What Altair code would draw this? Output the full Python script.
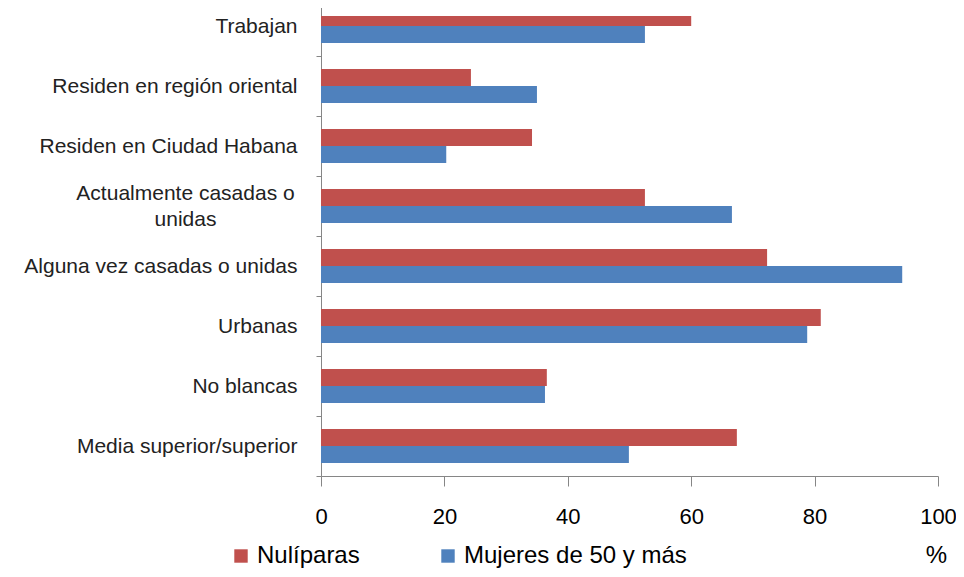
import altair as alt
import pandas as pd

categories = [
    "Trabajan",
    "Residen en región oriental",
    "Residen en Ciudad Habana",
    "Actualmente casadas o unidas",
    "Alguna vez casadas o unidas",
    "Urbanas",
    "No blancas",
    "Media superior/superior",
]
nuliparas = [60.0, 24.3, 34.2, 52.5, 72.3, 81.0, 36.6, 67.4]
mujeres50 = [52.5, 35.0, 20.3, 66.6, 94.2, 78.8, 36.3, 49.9]
series = ["Nulíparas", "Mujeres de 50 y más"]
colors = ["#C0504D", "#4F81BD"]
x_ticks = [0, 20, 40, 60, 80, 100]

rows = []
for c, a, b in zip(categories, nuliparas, mujeres50):
    rows.append({"cat": c, "serie": series[0], "val": a})
    rows.append({"cat": c, "serie": series[1], "val": b})
df = pd.DataFrame(rows)

font = "Liberation Sans"
multi = "Actualmente casadas o unidas"
test = f"datum.value == '{multi}'"

chart = (
    alt.Chart(df)
    .mark_bar(clip=True)
    .encode(
        y=alt.Y(
            "cat:N",
            sort=categories,
            scale=alt.Scale(paddingInner=0, paddingOuter=0, range=[-20, 460]),
            axis=alt.Axis(
                title=None,
                tickBand="extent",
                tickSize=5,
                labelPadding={"condition": {"test": test, "value": 131}, "value": 19},
                labelAlign={"condition": {"test": test, "value": "center"}, "value": "right"},
                labelFontSize=21,
                labelFont=font,
                labelColor="#222222",
                labelLimit=400,
                labelLineHeight=26,
                labelOffset={"condition": {"test": test, "value": -13}, "value": 0},
                labelExpr=f"{test} ? ['Actualmente casadas o', 'unidas'] : datum.value",
                domainColor="#868686",
                tickColor="#868686",
                grid=False,
            ),
        ),
        yOffset=alt.YOffset(
            "serie:N",
            sort=series,
            scale=alt.Scale(paddingInner=0, paddingOuter=0.765),
        ),
        x=alt.X(
            "val:Q",
            scale=alt.Scale(domain=[0, 100]),
            axis=alt.Axis(
                values=x_ticks,
                title="%",
                titleX=615,
                titleY=79,
                titleBaseline="middle",
                titleAlign="center",
                titleAnchor="start",
                titleFontSize=24,
                titleFontWeight="normal",
                titleFont=font,
                titleColor="#000000",
                tickSize=10,
                labelPadding=20,
                labelFontSize=22,
                labelFont=font,
                labelColor="#000000",
                domainColor="#868686",
                tickColor="#868686",
                grid=False,
                labelFlush=False,
            ),
        ),
        color=alt.Color(
            "serie:N",
            sort=series,
            scale=alt.Scale(domain=series, range=colors),
            legend=alt.Legend(
                title=None,
                orient="none",
                legendX=-92,
                legendY=528,
                direction="horizontal",
                symbolType="square",
                symbolSize=180,
                symbolStrokeWidth=0,
                labelFontSize=24,
                labelFont=font,
                labelColor="#000000",
                labelOffset=4,
                columnPadding=76,
                labelLimit=400,
            ),
        ),
    )
    .properties(width=617, height=460)
    .configure_view(stroke=None)
    .properties(
        padding={"top": 8, "left": 313, "right": 18, "bottom": 93},
        autosize=alt.AutoSizeParams(type="none"),
        background="white",
    )
)

chart.save("out.html", embed_options={"renderer": "svg", "actions": False})
